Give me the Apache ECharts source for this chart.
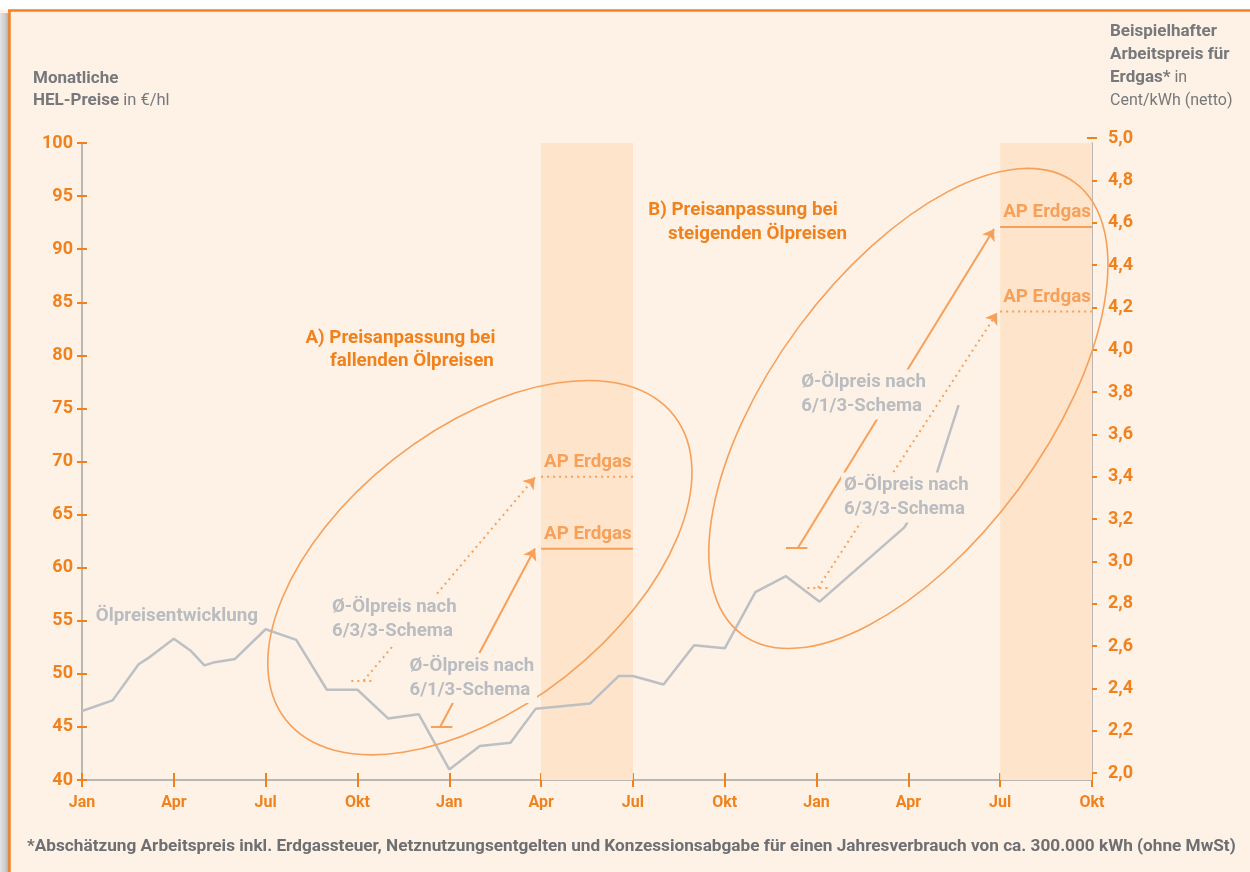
<!DOCTYPE html>
<html>
<head>
<meta charset="utf-8">
<script src="https://cdn.jsdelivr.net/npm/echarts@6/dist/echarts.min.js"></script>
<style>
  html, body { margin: 0; padding: 0; background: #fff; }
  #chart { width: 1250px; height: 872px; }
</style>
</head>
<body>
<div id="chart"></div>
<script>
// x = Monate ab Jan (Jahr 1) = 0 bis Okt (Jahr 3) = 33
const monthLabels = ['Jan', 'Apr', 'Jul', 'Okt'];

// HEL-Preise in €/hl
const oilMonths = [0, 1, 1.85, 2.17, 3, 3.54, 4, 4.34, 5, 6, 7, 8, 9, 10, 11, 12, 13, 14, 14.82, 16.6, 17.54, 18, 19, 20, 21, 22, 23, 24.1, 26.87, 27.93, 28.64];
const oilPrices = [46.5, 47.5, 50.9, 51.5, 53.3, 52.2, 50.8, 51.1, 51.4, 54.2, 53.2, 48.5, 48.5, 45.8, 46.2, 41.0, 43.2, 43.5, 46.7, 47.2, 49.8, 49.8, 49.0, 52.7, 52.4, 57.7, 59.2, 56.8, 63.8, 68.9, 75.3];

// Anpassungszeiträume (Monate) - A: fallend, B: steigend
const bandStart = [15, 30];
const bandEnd = [18, 33];

// Arbeitspreis Erdgas in Cent/kWh je Schema (A, B)
const gas613 = [3.06, 4.58];
const gas633 = [3.40, 4.18];

// Ø-Ölpreis (€/hl) je Schema, kurze Marke + Startmonat des Pfeils (A, B)
const avg613 = [45.0, 61.9];
const avg613From = [11.4, 23.0];
const avg613To = [12.1, 23.7];
const avg613Arrow = [11.7, 23.4];
const avg633 = [49.35, 58.1];
const avg633From = [8.8, 23.7];
const avg633To = [9.5, 24.45];
const avg633Arrow = [9.2, 24.05];
// Pfeilspitzen (Monat, €/hl-Skala)
const tip613 = [[14.8, 61.8], [29.8, 91.9]];
const tip633 = [[14.8, 68.5], [29.9, 84.0]];

const ORANGE = '#f0821e';
const LIGHT = '#f6a05a';
const GRAY_T = '#b9bcc0';
const TITLE = '#76787b';
const AXIS = '#a3a3a3';
const BG = '#fef1e5';
const BAND = '#fde4ca';
const F = 'Roboto, "Open Sans", sans-serif';
const DOTS = [2, 4];

const chart = echarts.init(document.getElementById('chart'));

const xBase = { type: 'value', min: 0, max: 33, interval: 3, splitLine: { show: false } };
const gridOpts = { left: 82, right: 158, containLabel: false, outerBoundsMode: 'none' };
const tickStyle = { color: ORANGE, width: 2 };

const gasSeries = [];
[gas613, gas633].forEach((vals, k) => {
  vals.forEach((v, i) => {
    gasSeries.push({
      type: 'line', xAxisIndex: 2, yAxisIndex: 1, symbol: 'none', silent: true, z: 4,
      lineStyle: { color: LIGHT, width: 2, type: k === 0 ? 'solid' : DOTS },
      data: [[bandStart[i], v], [bandEnd[i], v]]
    });
  });
});

const arrowData = [];
const barData = [];
[0, 1].forEach(i => {
  arrowData.push({ coords: [[avg613Arrow[i], avg613[i]], tip613[i]], lineStyle: { type: 'solid' } });
  arrowData.push({ coords: [[avg633Arrow[i], avg633[i]], tip633[i]], lineStyle: { type: DOTS } });
  barData.push({ coords: [[avg613From[i], avg613[i]], [avg613To[i], avg613[i]]], lineStyle: { type: 'solid' } });
  barData.push({ coords: [[avg633From[i], avg633[i]], [avg633To[i], avg633[i]]], lineStyle: { type: DOTS } });
});

const option = {
  backgroundColor: BG,
  animation: false,
  textStyle: { fontFamily: F },
  grid: [
    Object.assign({ top: 143, bottom: 92 }, gridOpts),
    Object.assign({ top: 138, bottom: 99 }, gridOpts)
  ],
  xAxis: [
    Object.assign({}, xBase, {
      gridIndex: 0, position: 'bottom',
      axisLine: { onZero: false, lineStyle: { color: AXIS, width: 1.5 } },
      axisTick: { length: 7, lineStyle: tickStyle },
      axisLabel: {
        margin: 15, color: ORANGE, fontWeight: 'bold', fontSize: 16, fontFamily: F,
        formatter: v => monthLabels[Math.round(v / 3) % 4]
      }
    }),
    Object.assign({}, xBase, {
      gridIndex: 0, position: 'bottom',
      axisLine: { show: false, onZero: false }, axisLabel: { show: false },
      axisTick: { inside: true, length: 7, lineStyle: tickStyle }
    }),
    Object.assign({}, xBase, { gridIndex: 1, position: 'bottom', show: false, axisLine: { onZero: false } })
  ],
  yAxis: [
    {
      type: 'value', gridIndex: 0, position: 'left', min: 40, max: 100, interval: 5,
      splitLine: { show: false },
      axisLine: { show: true, onZero: false, lineStyle: { color: AXIS, width: 1.5 } },
      axisTick: { show: true, length: 5, lineStyle: tickStyle },
      axisLabel: { margin: 9, color: ORANGE, fontWeight: 'bold', fontSize: 18, fontFamily: F }
    },
    {
      type: 'value', gridIndex: 1, position: 'right', min: 2, max: 5, interval: 0.2,
      splitLine: { show: false },
      axisLine: { show: false, onZero: false },
      axisTick: { show: true, length: 5, lineStyle: tickStyle },
      axisLabel: {
        margin: 16, color: ORANGE, fontWeight: 'bold', fontSize: 18, fontFamily: F,
        formatter: v => v.toFixed(1).replace('.', ',')
      }
    },
    {
      type: 'value', gridIndex: 0, position: 'left', min: 40, max: 100, interval: 5,
      splitLine: { show: false }, axisLine: { show: false, onZero: false }, axisLabel: { show: false },
      axisTick: { show: true, inside: true, length: 5, lineStyle: tickStyle }
    },
    {
      type: 'value', gridIndex: 1, position: 'right', min: 2, max: 5, interval: 0.2,
      splitLine: { show: false }, axisLine: { show: false, onZero: false }, axisLabel: { show: false },
      axisTick: { show: true, inside: true, length: 5, lineStyle: tickStyle }
    },
    {
      type: 'value', gridIndex: 0, position: 'right', min: 0, max: 1,
      splitLine: { show: false }, axisTick: { show: false }, axisLabel: { show: false },
      axisLine: { show: true, onZero: false, lineStyle: { color: AXIS, width: 1.5 } }
    }
  ],
  series: [
    {
      name: 'Ölpreisentwicklung', type: 'line', xAxisIndex: 0, yAxisIndex: 0,
      symbol: 'none', silent: true, z: 3,
      lineStyle: { color: '#bcc0c4', width: 2.5 },
      data: oilMonths.map((m, i) => [m, oilPrices[i]]),
      markArea: {
        silent: true,
        itemStyle: { color: BAND },
        data: bandStart.map((s, i) => [{ xAxis: s }, { xAxis: bandEnd[i] }])
      }
    },
    ...gasSeries,
    {
      type: 'lines', coordinateSystem: 'cartesian2d', xAxisIndex: 0, yAxisIndex: 0,
      silent: true, z: 5, symbol: ['none', 'arrow'], symbolSize: 11,
      lineStyle: { color: LIGHT, width: 2, opacity: 1, curveness: 0 },
      data: arrowData
    },
    {
      type: 'lines', coordinateSystem: 'cartesian2d', xAxisIndex: 0, yAxisIndex: 0,
      silent: true, z: 5, symbol: 'none',
      lineStyle: { color: LIGHT, width: 2, opacity: 1, curveness: 0 },
      data: barData
    }
  ]
};

chart.setOption(option);

// Anmerkungen in Datenkoordinaten
const ellipses = [
  { center: [13, 60], rx: 246.6, ry: 138.5, angle: 38.1 },
  { center: [27, 75], rx: 280.6, ry: 136.6, angle: 53.6 }
];
const notes = [
  { text: 'Ölpreisentwicklung', at: [0.45, 55.4], color: GRAY_T },
  { text: 'A) Preisanpassung bei', at: [7.3, 81.6], color: ORANGE },
  { text: 'fallenden Ölpreisen', at: [8.1, 79.4], color: ORANGE },
  { text: 'B) Preisanpassung bei', at: [18.5, 93.7], color: ORANGE },
  { text: 'steigenden Ölpreisen', at: [19.15, 91.4], color: ORANGE },
  { text: 'Ø-Ölpreis nach\n6/3/3-Schema', at: [8.17, 55.1], color: GRAY_T, bg: true },
  { text: 'Ø-Ölpreis nach\n6/1/3-Schema', at: [10.7, 49.6], color: GRAY_T, bg: true },
  { text: 'Ø-Ölpreis nach\n6/1/3-Schema', at: [23.5, 76.3], color: GRAY_T, bg: true },
  { text: 'Ø-Ölpreis nach\n6/3/3-Schema', at: [24.9, 66.6], color: GRAY_T, bg: true }
];

const toPx = p => chart.convertToPixel({ xAxisIndex: 0, yAxisIndex: 0 }, p);
const toPxGas = p => chart.convertToPixel({ xAxisIndex: 2, yAxisIndex: 1 }, p);

const graphics = [
  { type: 'rect', silent: true, z: 1, shape: { x: 0, y: 0, width: 1250, height: 10 }, style: { fill: '#ffffff' } },
  {
    type: 'rect', silent: true, z: 1, shape: { x: 0, y: 13, width: 9, height: 859 },
    style: {
      fill: new echarts.graphic.LinearGradient(0, 0, 1, 0, [
        { offset: 0, color: '#e4e4e4' }, { offset: 0.6, color: '#cbcbcb' }, { offset: 1, color: '#a8a8a8' }
      ])
    }
  },
  { type: 'line', silent: true, z: 1, shape: { x1: 8, y1: 10.5, x2: 1250, y2: 10.5 }, style: { stroke: '#f58220', lineWidth: 2.5 } },
  { type: 'line', silent: true, z: 1, shape: { x1: 9.5, y1: 10, x2: 9.5, y2: 872 }, style: { stroke: '#f58220', lineWidth: 2.5 } },
  {
    type: 'text', silent: true, z: 1, x: 33, y: 68,
    style: {
      text: '{b|Monatliche}\n{b|HEL-Preise} in €/hl', fill: TITLE, fontSize: 16.5, fontFamily: F,
      lineHeight: 22, verticalAlign: 'top',
      rich: { b: { fontWeight: 'bold', fontSize: 17, fontFamily: F, fill: TITLE, lineHeight: 22 } }
    }
  },
  {
    type: 'text', silent: true, z: 1, x: 1110, y: 20,
    style: {
      text: '{b|Beispielhafter}\n{b|Arbeitspreis für}\n{b|Erdgas*} in\nCent/kWh (netto)', fill: TITLE,
      fontSize: 16, fontFamily: F, lineHeight: 23, verticalAlign: 'top',
      rich: { b: { fontWeight: 'bold', fontSize: 17, fontFamily: F, fill: TITLE, lineHeight: 23 } }
    }
  },
  {
    type: 'text', silent: true, z: 1, x: 27, y: 847,
    style: {
      text: '*Abschätzung Arbeitspreis inkl. Erdgassteuer, Netznutzungsentgelten und Konzessionsabgabe für einen Jahresverbrauch von ca. 300.000 kWh (ohne MwSt)',
      fill: '#6d6f72', fontSize: 17.2, fontWeight: 'bold', fontFamily: F, verticalAlign: 'middle'
    }
  }
];

ellipses.forEach(e => {
  const c = toPx(e.center);
  graphics.push({
    type: 'ellipse', silent: true, z: 50, x: c[0], y: c[1], rotation: e.angle * Math.PI / 180,
    shape: { cx: 0, cy: 0, rx: e.rx, ry: e.ry },
    style: { fill: 'none', stroke: LIGHT, lineWidth: 1.6 }
  });
});

notes.forEach(n => {
  const p = toPx(n.at);
  const pad = n.bg ? 3 : 0;
  graphics.push({
    type: 'text', silent: true, z: 100, x: p[0] - pad, y: p[1],
    style: {
      text: n.text, fill: n.color, fontSize: n.bg ? 18.6 : 18.8, fontWeight: 'bold', fontFamily: F,
      lineHeight: 24, align: 'left', verticalAlign: 'middle',
      backgroundColor: n.bg ? BG : null, padding: n.bg ? [1, pad] : 0
    }
  });
});

[gas613, gas633].forEach(vals => {
  vals.forEach((v, i) => {
    const p = toPxGas([bandStart[i], v]);
    graphics.push({
      type: 'text', silent: true, z: 100, x: p[0] + 3, y: p[1] - 5,
      style: { text: 'AP Erdgas', fill: LIGHT, fontSize: 18.8, fontWeight: 'bold', fontFamily: F, verticalAlign: 'bottom' }
    });
  });
});

chart.setOption({ graphic: graphics });
</script>
</body>
</html>
